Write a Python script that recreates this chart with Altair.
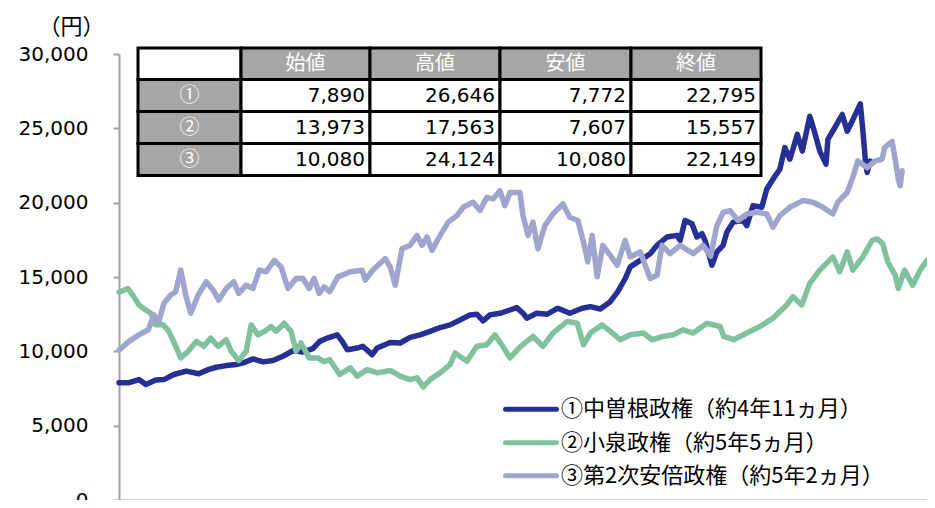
import altair as alt
import pandas as pd

# ---------------- data ----------------
SERIES = ["①中曽根政権（約4年11ヵ月）", "②小泉政権（約5年5ヵ月）", "③第2次安倍政権（約5年2ヵ月）"]
COLORS = ["#262F96", "#80C19E", "#9FA5CE"]

nakasone_days = [0, 16, 32, 43, 59, 72, 88, 108, 128, 143,
                 156, 172, 188, 199, 215, 231, 247, 263, 279, 295,
                 311, 322, 334, 350, 358, 366, 382, 391, 406, 414,
                 435, 451, 467, 483, 499, 515, 531, 547, 563, 574,
                 584, 595, 611, 627, 638, 648, 654, 670, 687, 704,
                 723, 743, 756, 772, 788, 800, 812, 820, 836, 852,
                 863, 879, 895, 900, 908, 919, 927, 935, 940, 951,
                 959, 969, 975, 985, 1001, 1007, 1017, 1031, 1039, 1049,
                 1060, 1068, 1076, 1088, 1096, 1108, 1116, 1124, 1134, 1137,
                 1148, 1160, 1168, 1176, 1189, 1193, 1197, 1200, 1205]
nakasone_values = [7890, 7890, 8100, 7772, 8080, 8100, 8440, 8670, 8490, 8770,
                   8930, 9040, 9110, 9220, 9490, 9290, 9380, 9670, 10040, 9960,
                   10180, 10670, 10890, 11110, 10670, 10110, 10220, 10340, 9780, 10220,
                   10600, 10560, 10940, 11110, 11340, 11600, 11780, 12110, 12450, 12500,
                   12050, 12450, 12560, 12780, 12940, 12560, 12230, 12560, 12500, 12900,
                   12560, 12900, 13010, 12850, 13340, 14010, 14900, 15680, 16120, 16570,
                   17130, 17690, 17800, 17460, 18800, 18580, 17690, 17910, 17460, 15790,
                   16690, 17130, 18020, 18690, 18800, 18460, 19800, 19690, 20920, 21580,
                   22250, 23700, 22920, 24590, 23470, 25810, 24700, 23470, 22590, 24260,
                   25040, 25930, 24810, 25480, 26646, 24920, 22920, 22030, 22795]

koizumi_days = [0, 14, 22, 32, 43, 51, 59, 71, 80, 91,
                99, 111, 124, 136, 147, 159, 172, 180, 192, 204,
                212, 223, 233, 244, 252, 265, 276, 284, 292, 305,
                319, 329, 338, 354, 371, 382, 398, 415, 435, 451,
                467, 478, 488, 499, 515, 531, 539, 558, 574, 590,
                603, 614, 627, 643, 664, 680, 696, 719, 735, 745,
                756, 775, 788, 804, 820, 841, 855, 873, 889, 905,
                921, 943, 964, 970, 986, 1007, 1028, 1049, 1071, 1081,
                1095, 1108, 1124, 1145, 1156, 1168, 1177, 1193, 1208, 1216,
                1225, 1233, 1245, 1250, 1260, 1273, 1285, 1296, 1309]
koizumi_values = [13973, 14230, 13790, 13120, 12780, 12560, 11780, 11780, 11340, 10340,
                  9560, 10000, 10670, 10340, 10890, 10340, 10780, 10000, 9380, 10000,
                  11780, 11110, 11340, 11670, 11340, 11890, 11340, 10000, 10560, 9560,
                  9560, 9300, 9440, 8440, 8890, 8330, 8770, 8550, 8710, 8330,
                  8100, 8220, 7607, 8100, 8550, 9110, 9890, 9330, 10340, 10440,
                  11110, 10440, 9560, 10280, 11000, 10340, 11230, 12010, 11890, 10440,
                  11230, 11780, 11340, 10780, 11110, 11230, 10780, 11000, 11110, 11450,
                  11230, 11890, 11670, 11000, 10780, 11230, 11670, 12230, 13120, 13680,
                  13120, 14570, 15460, 16350, 15350, 16690, 15460, 16350, 17460, 17563,
                  17240, 16020, 15120, 14230, 15460, 14450, 15460, 16120, 15557]

abe_days = [0, 16, 32, 47, 56, 64, 72, 83, 91, 99,
            107, 115, 127, 140, 151, 160, 172, 184, 192, 204,
            215, 225, 236, 249, 260, 271, 284, 295, 305, 313,
            321, 329, 338, 351, 371, 390, 395, 407, 427, 435,
            443, 454, 467, 478, 486, 494, 502, 512, 528, 542,
            552, 568, 579, 590, 600, 611, 619, 627, 643, 648,
            656, 664, 672, 683, 696, 712, 723, 736, 745, 752,
            759, 767, 776, 788, 799, 812, 820, 836, 852, 863,
            871, 884, 900, 921, 937, 949, 959, 969, 980, 993,
            1007, 1023, 1039, 1049, 1060, 1076, 1097, 1113, 1129, 1145,
            1153, 1168, 1177, 1185, 1200, 1213, 1224, 1228, 1240, 1245,
            1250, 1253, 1256]
abe_values = [10080, 10670, 11110, 11450, 12450, 12010, 13230, 13790, 14010, 15460,
              13790, 12560, 13790, 14680, 14120, 13450, 14230, 14680, 13900, 14450,
              14230, 15460, 15350, 16120, 15680, 14230, 14900, 14900, 14230, 14900,
              13900, 14340, 14010, 15010, 15350, 15460, 14790, 15460, 16240, 15680,
              14450, 16900, 17130, 17800, 17130, 17690, 16790, 17570, 18690, 19130,
              19690, 20030, 19470, 20360, 20250, 20800, 19800, 20690, 20690, 19130,
              17800, 18690, 16900, 18460, 19240, 19910, 19020, 18800, 17350, 16020,
              17800, 15010, 17130, 16460, 15790, 17460, 16350, 16690, 14900, 15120,
              17130, 16570, 17130, 16570, 17130, 16400, 18460, 19350, 19470, 18800,
              19240, 19350, 19240, 18350, 19130, 19690, 20140, 20030, 19690, 19240,
              20030, 20690, 21700, 22810, 22360, 22810, 22920, 23700, 24124, 22920,
              21580, 21130, 22149]

TABLE_HEADERS = ["始値", "高値", "安値", "終値"]
TABLE_ROWS = ["①", "②", "③"]
TABLE_VALUES = [[7890, 26646, 7772, 22795],
                [13973, 17563, 7607, 15557],
                [10080, 24124, 10080, 22149]]

X_TICKS = [0, 200, 400, 600, 800, 1000, 1200]
Y_TICKS = [0, 5000, 10000, 15000, 20000, 25000, 30000]
X_MAX = 1296

# ---------------- layout / style ----------------
W, H = 808, 446
GRAY_AXIS = "#A0A0A0"
CELL_GRAY = "#A6A6A6"
JP_FONT = "Noto Sans CJK JP"
NUM_FONT = "DejaVu Sans"
COL_EDGES = [19, 122, 251, 381, 512, 642]      # px, relative to plot left
ROW_EDGES = [-6, 25.5, 57.5, 89.5, 121.5]      # px, relative to plot top
LEG_X0, LEG_X1, LEG_TX = 386.5, 437.5, 442     # legend swatch / label x (px)
LEG_Y = [355.3, 388.7, 421.7]                  # legend row centres (px)

rows = []
for name, days, vals in zip(SERIES, [nakasone_days, koizumi_days, abe_days],
                            [nakasone_values, koizumi_values, abe_values]):
    for d, v in zip(days, vals):
        rows.append({"series": name, "day": d, "value": v})
df = pd.DataFrame(rows)

x_enc = alt.X("day:Q", scale=alt.Scale(domain=[0, X_MAX], nice=False, zero=False),
              axis=alt.Axis(values=X_TICKS, labels=False, title=None, grid=False,
                            domainColor=GRAY_AXIS, domainWidth=2, tickColor=GRAY_AXIS,
                            tickWidth=2, tickSize=6))
y_enc = alt.Y("value:Q", scale=alt.Scale(domain=[0, 30000], nice=False),
              axis=alt.Axis(values=Y_TICKS, format=",d", grid=False,
                            domainColor=GRAY_AXIS, domainWidth=2, tickColor=GRAY_AXIS,
                            tickWidth=2, tickSize=6, labelFont=NUM_FONT, labelFontSize=20,
                            labelColor="#000000", labelPadding=25,
                            title="（円）", titleAngle=0, titleX=-48, titleY=-28,
                            titleAlign="center", titleBaseline="middle", titleFont=JP_FONT,
                            titleFontSize=22, titleFontWeight="normal", titleColor="#000000"))
color_enc = alt.Color("series:N", scale=alt.Scale(domain=SERIES, range=COLORS), legend=None)

line_layers = [
    alt.Chart(df).transform_filter(alt.datum.series == s)
    .mark_line(strokeWidth=5.5, strokeJoin="round", strokeCap="round")
    .encode(x=x_enc, y=y_enc, color=color_enc)
    for s in SERIES
]
lines = alt.layer(*line_layers)

# ---------------- table ----------------
cells = []
for r in range(4):
    for c in range(5):
        x0, x1 = COL_EDGES[c], COL_EDGES[c + 1]
        y0, y1 = ROW_EDGES[r], ROW_EDGES[r + 1]
        if r == 0 and c == 0:
            fill, text, kind = "#FFFFFF", "", "none"
        elif r == 0:
            fill, text, kind = CELL_GRAY, TABLE_HEADERS[c - 1], "label"
        elif c == 0:
            fill, text, kind = CELL_GRAY, TABLE_ROWS[r - 1], "label"
        else:
            fill, text, kind = "#FFFFFF", f"{TABLE_VALUES[r - 1][c - 1]:,}", "value"
        cells.append({"x0": x0, "x1": x1, "y0": y0, "y1": y1, "fill": fill,
                      "text": text, "kind": kind, "cx": (x0 + x1) / 2,
                      "rx": x1 - 5, "cy": (y0 + y1) / 2})
tdf = pd.DataFrame(cells)

rects = alt.Chart(tdf).mark_rect(stroke="#000000", strokeWidth=3).encode(
    x=alt.X("x0:Q", scale=None, axis=None), x2="x1:Q",
    y=alt.Y("y0:Q", scale=None, axis=None), y2="y1:Q",
    fill=alt.Fill("fill:N", scale=None))
labels = alt.Chart(tdf).transform_filter(alt.datum.kind == "label").mark_text(
    align="center", baseline="middle", font=JP_FONT, fontSize=20, color="#FFFFFF").encode(
    x=alt.X("cx:Q", scale=None, axis=None), y=alt.Y("cy:Q", scale=None, axis=None), text="text:N")
values = alt.Chart(tdf).transform_filter(alt.datum.kind == "value").mark_text(
    align="right", baseline="middle", font=NUM_FONT, fontSize=20, color="#000000").encode(
    x=alt.X("rx:Q", scale=None, axis=None), y=alt.Y("cy:Q", scale=None, axis=None), text="text:N")

# ---------------- legend ----------------
ldf = pd.DataFrame({"series": SERIES, "color": COLORS, "ly": LEG_Y,
                    "lx0": [LEG_X0] * 3, "lx1": [LEG_X1] * 3, "tx": [LEG_TX] * 3})
leg_lines = alt.Chart(ldf).mark_rule(strokeWidth=5, strokeCap="round").encode(
    x=alt.X("lx0:Q", scale=None, axis=None), x2="lx1:Q",
    y=alt.Y("ly:Q", scale=None, axis=None),
    color=alt.Color("color:N", scale=None))
leg_text = alt.Chart(ldf).mark_text(
    align="left", baseline="middle", font=JP_FONT, fontSize=22, color="#000000").encode(
    x=alt.X("tx:Q", scale=None, axis=None), y=alt.Y("ly:Q", scale=None, axis=None),
    text="series:N")

overlay = alt.layer(rects, labels, values, leg_lines, leg_text)

chart = alt.layer(lines, overlay).resolve_scale(
    x="independent", y="independent", color="independent").properties(
    width=W, height=H,
    padding={"left": 111, "top": 46, "right": 0, "bottom": 0},
    autosize=alt.AutoSizeParams(type="none"),
    background="#FFFFFF",
).configure_view(stroke=None)

chart.save("out.html", embed_options={"renderer": "svg", "actions": False})
